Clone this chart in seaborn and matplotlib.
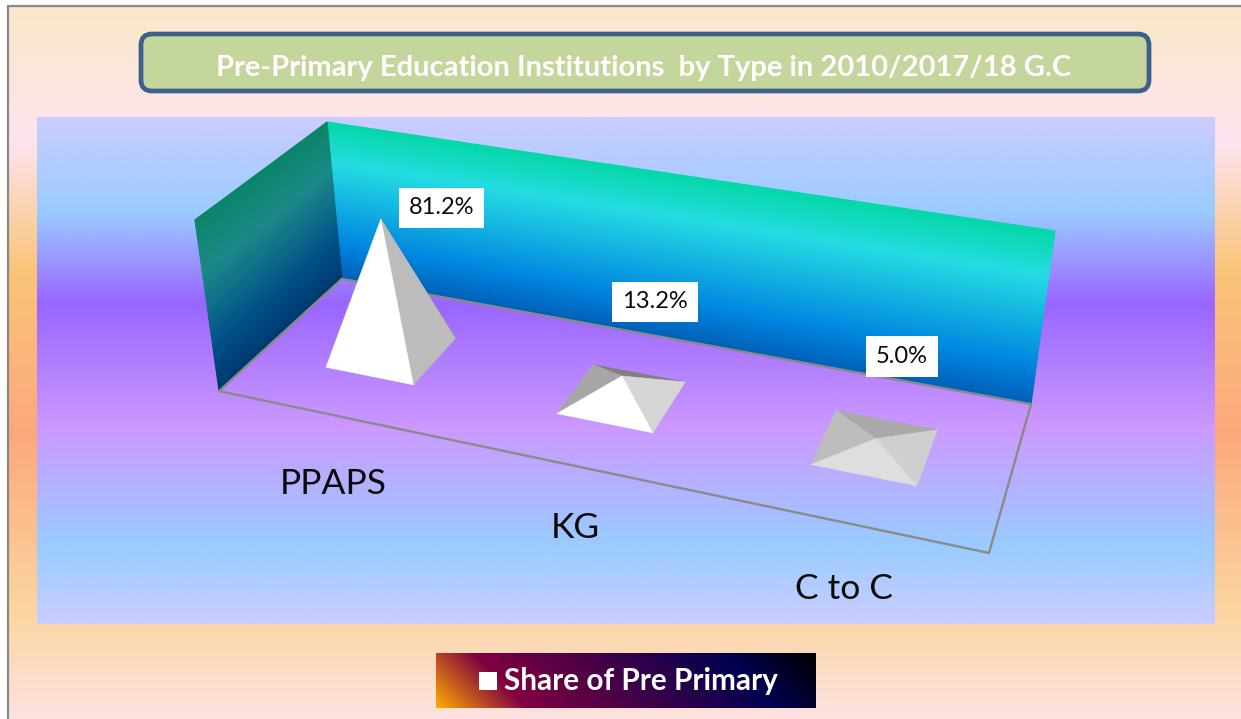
import numpy as np
import pandas as pd
import seaborn as sns
import matplotlib
matplotlib.use("Agg")
import matplotlib.pyplot as plt
from matplotlib.colors import LinearSegmentedColormap
from matplotlib.patches import FancyBboxPatch, Polygon

# ---- data ----
categories = ["PPAPS", "KG", "C to C"]
shares = [81.2, 13.2, 5.0]
value_labels = ["81.2%", "13.2%", "5.0%"]
title_text = "Pre-Primary Education Institutions  by Type in 2010/2017/18 G.C"
legend_text = "Share of Pre Primary"

# ---- styles ----
FONT = "Lato"
W, H = 1241, 719
face_colors = [  # back, left, right, front
    ("#808080", "#a0a0a0", "#bcbcbc", "#ffffff"),
    ("#808080", "#a6a6a6", "#d6d6d6", "#ffffff"),
    ("#a9a9a9", "#bdbdbd", "#cfcfcf", "#dedede"),
]
label_offsets = [(61, -11), (33, -74), (26, -82)]
label_pads = 7
cat_text_pos = [(333, 484), (575, 528), (844, 589)]


def stops(*pairs):
    return LinearSegmentedColormap.from_list("g", list(pairs), N=512)


sns.set_theme(style="white")
plt.rcParams["font.family"] = [FONT, "DejaVu Sans"]

fig = plt.figure(figsize=(W / 100, H / 100), dpi=100, facecolor="white")
ax = fig.add_axes([0, 0, 1, 1])
ax.set_xlim(0, W)
ax.set_ylim(H, 0)
ax.axis("off")


def vgrad(x0, x1, y0, y1, cmap, z):
    g = np.linspace(0, 1, 512)[:, None]
    ax.imshow(g, extent=(x0, x1, y1, y0), cmap=cmap, aspect="auto", zorder=z,
              interpolation="bilinear")


# page background
page_cmap = stops((0, "#fae8c8"), (0.188, "#fde4f0"), (0.37, "#fac478"),
                  (0.60, "#fda87c"), (0.846, "#fbd59f"), (1, "#fde2e0"))
vgrad(8, W, 6, H, page_cmap, 0)
ax.plot([8, 8], [H, 6], color="#888888", lw=1.6, zorder=1)
ax.plot([8, W], [6, 6], color="#888888", lw=1.6, zorder=1)

# plot area background
plot_cmap = stops((0, "#ccccff"), (0.187, "#99ccff"), (0.367, "#9966ff"),
                  (0.613, "#cc99ff"), (0.846, "#99ccff"), (1, "#ccccff"))
vgrad(37, 1215, 117, 624, plot_cmap, 1)

# ---- camera: fitted to the chart frame corners (category, depth, percent) -> pixels
frame_world = np.array([[0, 0, 0], [0, 1, 0], [3, 1, 0], [3, 0, 0],
                        [0, 0, 100], [0, 1, 100], [3, 1, 100]], float)
frame_pixel = np.array([[219, 391], [342, 279], [1031, 404], [989, 553],
                        [195, 220], [327, 122], [1055, 231]], float)
A, b = [], []
for (X, Y, Z), (u, v) in zip(frame_world, frame_pixel):
    A.append([X, Y, Z, 1, 0, 0, 0, 0, -u * X, -u * Y, -u * Z])
    A.append([0, 0, 0, 0, X, Y, Z, 1, -v * X, -v * Y, -v * Z])
    b += [u, v]
cam = np.append(np.linalg.lstsq(np.array(A), np.array(b), rcond=None)[0], 1).reshape(3, 4)


def project(x, y, z):
    p = cam @ np.vstack([np.ravel(x), np.ravel(y), np.ravel(z), np.ones(np.size(x))])
    return (p[0] / p[2]).reshape(np.shape(x)), (p[1] / p[2]).reshape(np.shape(x))


# ---- walls ----
back_cmap = stops((0, "#05d8a8"), (0.25, "#25dce2"), (0.77, "#0085e0"), (1, "#0060b8"))
left_cmap = stops((0, "#0b8568"), (0.30, "#1c8888"), (0.75, "#004f88"), (1, "#003870"))
t = np.linspace(0, 1, 80)
a = np.linspace(0, 3, 2)
xx, tt = np.meshgrid(a, t)
px, py = project(xx, np.ones_like(xx), 100 * (1 - tt))
ax.pcolormesh(px, py, tt, cmap=back_cmap, shading="gouraud", zorder=2)
a = np.linspace(0, 1, 2)
yy, tt = np.meshgrid(a, t)
px, py = project(np.zeros_like(yy), yy, 100 * (1 - tt))
ax.pcolormesh(px, py, tt, cmap=left_cmap, shading="gouraud", zorder=2)
ax.set_xlim(0, W)
ax.set_ylim(H, 0)

# floor outline
edge_x, edge_y = project(np.array([0, 3, 3, 0, 0.0]), np.array([0, 0, 1, 1, 0.0]), np.zeros(5))
sns.lineplot(data=pd.DataFrame({"x": edge_x, "y": edge_y, "o": range(5)}), x="x", y="y",
             sort=False, estimator=None, color="#8a8a8a", lw=1.7, ax=ax, zorder=3)

# ---- pyramids ----
half_u, half_v = 0.195, 0.195
for i, (val, cols) in enumerate(zip(shares, face_colors)):
    cx, cy = i + 0.5, 0.5
    cu = [cx - half_u, cx + half_u, cx + half_u, cx - half_u]
    cv = [cy - half_v, cy - half_v, cy + half_v, cy + half_v]
    bx, by = project(np.array(cu), np.array(cv), np.zeros(4))
    ax_, ay_ = project(np.array([cx]), np.array([cy]), np.array([val]))
    apex = (ax_[0], ay_[0])
    base = list(zip(bx, by))  # front-left, front-right, back-right, back-left
    faces = [(base[3], base[2]), (base[0], base[3]), (base[1], base[2]), (base[0], base[1])]
    for (p, q), col in zip(faces, cols):
        ax.add_patch(Polygon([p, q, apex], closed=True, fc=col, ec=col, lw=0.3, zorder=4))
    ox, oy = label_offsets[i]
    ax.text(apex[0] + ox, apex[1] + oy, value_labels[i], ha="center", va="center",
            fontsize=17, color="#0a0a0a", zorder=6,
            bbox=dict(fc="white", ec="none", pad=label_pads))
    tx, ty = cat_text_pos[i]
    ax.text(tx, ty, categories[i], ha="center", va="center", fontsize=25.5,
            color="#0a0a0a", zorder=6)

# ---- title ----
ax.add_patch(FancyBboxPatch((141, 34), 1008, 57, boxstyle="round,pad=0,rounding_size=11",
                            fc="#c4d69c", ec="#3c5f8c", lw=3.4, zorder=5))
ax.text(644, 68, title_text, ha="center", va="center", fontsize=21, fontweight="bold",
        color="white", zorder=6)

# ---- legend ----
lx0, lx1, ly0, ly1 = 436, 816, 653, 708
leg_cmap = stops((0, "#ffaa00"), (0.21, "#800040"), (0.79, "#000050"), (1, "#000000"))
gx, gy = np.meshgrid(np.arange(lx1 - lx0), np.arange(ly1 - ly0))
ax.imshow((gx + (ly1 - ly0 - gy)) / (lx1 - lx0 + ly1 - ly0), extent=(lx0, lx1, ly1, ly0),
          cmap=leg_cmap, aspect="auto", zorder=5)
sns.scatterplot(x=[488], y=[681], marker="s", s=168, color="white", linewidth=0, ax=ax, zorder=6)
ax.text(640.5, 681, legend_text, ha="center", va="center", fontsize=21.4, fontweight="bold",
        color="white", zorder=6)

ax.set_xlim(0, W)
ax.set_ylim(H, 0)
ax.set_xlabel("")
ax.set_ylabel("")
fig.savefig("out.png", dpi=100)
